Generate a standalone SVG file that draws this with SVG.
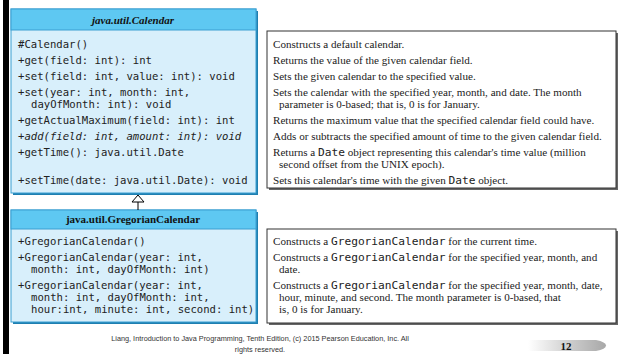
<svg xmlns="http://www.w3.org/2000/svg" width="619" height="354" viewBox="0 0 619 354">
  <defs>
    <linearGradient id="tab" x1="0" y1="0" x2="1" y2="0">
      <stop offset="0" stop-color="#ffffff"/>
      <stop offset="0.6" stop-color="#c8c8c8"/>
      <stop offset="1" stop-color="#a8a8a8"/>
    </linearGradient>
    <style>
      .shadow { fill: #1f7fb0; }
      .head { fill: #5ec8f2; stroke: #3a9fd2; stroke-width: 1; }
      .body { fill: #d8effb; stroke: #3a9fd2; stroke-width: 1; }
      .dshadow { fill: #666666; }
      .desc { fill: #ffffff; stroke: #333333; stroke-width: 1; }
      .title { font-family: "Liberation Serif", serif; font-weight: bold; font-size: 11px; fill: #111; text-anchor: middle; }
      .mono { font-family: "DejaVu Sans Mono", monospace; font-size: 10.6px; fill: #222; }
      .serif { font-family: "Liberation Serif", serif; font-size: 11.1px; fill: #222; }
      .code { font-family: "DejaVu Sans Mono", monospace; font-size: 11.2px; }
      .foot { font-family: "Liberation Sans", Arial, sans-serif; font-size: 7.3px; fill: #333; text-anchor: middle; }
    </style>
  </defs>

  <rect width="619" height="354" fill="#ffffff"/>
  <!-- left page edge -->
  <rect x="3" y="0" width="6" height="354" fill="#000000"/>

  <!-- class Calendar -->
  <g id="calendar">
    <rect class="shadow" x="13" y="11" width="245" height="184"/>
    <rect class="body" x="11" y="9" width="245" height="184"/>
    <rect class="head" x="11" y="9" width="245" height="21"/>
    <text class="title" x="133" y="24" font-style="italic">java.util.Calendar</text>
    <text class="mono" x="18" y="48">#Calendar()</text>
    <text class="mono" x="18" y="64">+get(field: int): int</text>
    <text class="mono" x="18" y="80">+set(field: int, value: int): void</text>
    <text class="mono" x="18" y="96">+set(year: int, month: int,</text>
    <text class="mono" x="31" y="108">dayOfMonth: int): void</text>
    <text class="mono" x="18" y="124">+getActualMaximum(field: int): int</text>
    <text class="mono" x="18" y="140" font-style="italic">+add(field: int, amount: int): void</text>
    <text class="mono" x="18" y="156">+getTime(): java.util.Date</text>
    <text class="mono" x="18" y="184">+setTime(date: java.util.Date): void</text>
  </g>

  <!-- descriptions of Calendar -->
  <g id="calendar-notes">
    <rect class="dshadow" x="269" y="33" width="349" height="157"/>
    <rect class="desc" x="267" y="31" width="349" height="157"/>
    <text class="serif" x="273" y="48">Constructs a default calendar.</text>
    <text class="serif" x="273" y="64">Returns the value of the given calendar field.</text>
    <text class="serif" x="273" y="80">Sets the given calendar to the specified value.</text>
    <text class="serif" x="273" y="96">Sets the calendar with the specified year, month, and date. The month</text>
    <text class="serif" x="279" y="108">parameter is 0-based; that is, 0 is for January.</text>
    <text class="serif" x="273" y="124">Returns the maximum value that the specified calendar field could have.</text>
    <text class="serif" x="273" y="140">Adds or subtracts the specified amount of time to the given calendar field.</text>
    <text class="serif" x="273" y="156">Returns a <tspan class="code">Date</tspan> object representing this calendar's time value (million</text>
    <text class="serif" x="279" y="168">second offset from the UNIX epoch).</text>
    <text class="serif" x="273" y="184">Sets this calendar's time with the given <tspan class="code">Date</tspan> object.</text>
  </g>

  <!-- class GregorianCalendar -->
  <g id="gregorian">
    <rect class="shadow" x="13" y="212" width="245" height="112"/>
    <rect class="body" x="11" y="210" width="245" height="112"/>
    <rect class="head" x="11" y="210" width="245" height="19"/>
    <text class="title" x="133" y="223">java.util.GregorianCalendar</text>
    <text class="mono" x="18" y="245">+GregorianCalendar()</text>
    <text class="mono" x="18" y="261">+GregorianCalendar(year: int,</text>
    <text class="mono" x="31" y="273">month: int, dayOfMonth: int)</text>
    <text class="mono" x="18" y="289">+GregorianCalendar(year: int,</text>
    <text class="mono" x="31" y="301">month: int, dayOfMonth: int,</text>
    <text class="mono" x="31" y="313">hour:int, minute: int, second: int)</text>
  </g>

  <!-- descriptions of GregorianCalendar -->
  <g id="gregorian-notes">
    <rect class="dshadow" x="269" y="231" width="349" height="94"/>
    <rect class="desc" x="267" y="229" width="349" height="94"/>
    <text class="serif" x="273" y="245">Constructs a <tspan class="code">GregorianCalendar</tspan> for the current time.</text>
    <text class="serif" x="273" y="261">Constructs a <tspan class="code">GregorianCalendar</tspan> for the specified year, month, and</text>
    <text class="serif" x="279" y="273">date.</text>
    <text class="serif" x="273" y="289">Constructs a <tspan class="code">GregorianCalendar</tspan> for the specified year, month, date,</text>
    <text class="serif" x="279" y="301">hour, minute, and second. The month parameter is 0-based, that</text>
    <text class="serif" x="279" y="313">is, 0 is for January.</text>
  </g>

  <!-- generalization: GregorianCalendar extends Calendar -->
  <g id="connectors" fill="none" stroke="#000" stroke-width="1">
    <line x1="138" y1="202" x2="138" y2="210"/>
    <polygon points="138,195 132,202 144,202" fill="#ffffff"/>
  </g>

  <!-- page footer -->
  <text class="foot" x="260" y="341">Liang, Introduction to Java Programming, Tenth Edition, (c) 2015 Pearson Education, Inc. All</text>
  <text class="foot" x="260" y="352">rights reserved.</text>
  <path d="M528,340 L596,340 Q606,342 606,345.5 Q606,349 596,351 L528,351 Z" fill="url(#tab)"/>
  <text x="566" y="350" font-family="Liberation Serif, serif" font-weight="bold" font-size="11px" fill="#111" text-anchor="middle">12</text>
</svg>
